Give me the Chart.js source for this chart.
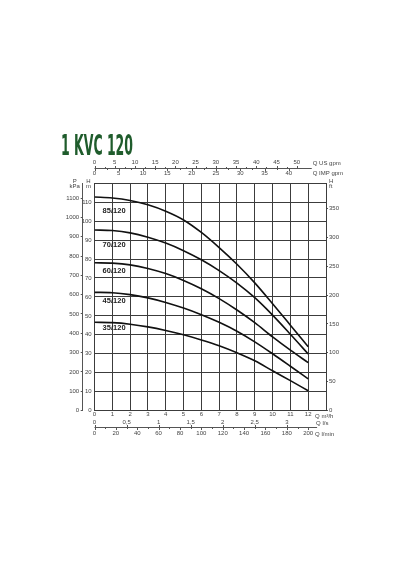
<!DOCTYPE html>
<html>
<head>
<meta charset="utf-8">
<script src="https://cdn.jsdelivr.net/npm/chart.js@4.4.1/dist/chart.umd.min.js"></script>
<style>
  html, body { margin: 0; padding: 0; background: #fff; }
  canvas { display: block; }
</style>
</head>
<body>
<canvas id="pumpChart" width="400" height="570"></canvas>
<script>
var chartTitle = "1 KVC 120";

// flow, m3/h
var flowQ = [0, 1, 2, 3, 4, 5, 6, 7, 8, 9, 10, 11, 12];
// head, m (one list per model)
var head85 = [112.7, 112.2, 110.9, 108.6, 105.2, 100.6, 94.0, 86.0, 77.2, 67.4, 56.4, 45.1, 33.7];
var head70 = [95.3, 95.0, 93.8, 91.5, 88.4, 84.4, 79.6, 73.9, 67.3, 59.6, 50.4, 40.3, 29.9];
var head60 = [78.0, 77.8, 76.9, 75.0, 72.3, 68.7, 64.3, 59.1, 53.1, 46.4, 38.9, 31.9, 25.3];
var head45 = [62.4, 62.2, 61.2, 59.5, 57.1, 54.1, 50.6, 46.6, 41.9, 36.3, 30.0, 23.4, 16.7];
var head35 = [46.6, 46.4, 45.6, 44.2, 42.3, 40.0, 37.3, 34.2, 30.5, 26.3, 21.0, 15.8, 10.5];
var modelNames = ["85/120", "70/120", "60/120", "45/120", "35/120"];
// where the model names sit, in Q (m3/h) and H (m)
var nameQ = [1.1, 1.1, 1.1, 1.1, 1.1];
var nameH = [105.5, 87.4, 73.8, 57.8, 43.4];

// secondary axis tick values
var usGpmTicks = [0, 5, 10, 15, 20, 25, 30, 35, 40, 45, 50];
var impGpmTicks = [0, 5, 10, 15, 20, 25, 30, 35, 40];
var lsTicks = [0, 0.5, 1, 1.5, 2, 2.5, 3];
var lminTicks = [0, 20, 40, 60, 80, 100, 120, 140, 160, 180, 200];
var kpaTicks = [0, 100, 200, 300, 400, 500, 600, 700, 800, 900, 1000, 1100];
var ftTicks = [0, 50, 100, 150, 200, 250, 300, 350];

var qMax = 13, hMax = 120;
var toUsGpm = 4.40287, toImpGpm = 3.66615, toLs = 1 / 3.6, toLmin = 1000 / 60;
var toKpa = 9.80665, toFt = 1 / 0.3048;

var gridColor = "#3c3c3c";
var axisColor = "#555";
var textColor = "#444";
var tickFont = { family: '"Liberation Sans", Arial, sans-serif', size: 6 };

function fixedWidth(w) { return function (scale) { scale.width = w; }; }
function fixedHeight(h) { return function (scale) { scale.height = h; }; }
function useTicks(values, minors) {
	return function (scale) {
		var list = [];
		values.forEach(function (v, i) {
			list.push({ value: v });
			if (minors && i < values.length - 1) list.push({ value: (v + values[i + 1]) / 2, minor: true });
		});
		scale.ticks = list;
	};
}
function plainLabel(v, i, ticks) { return ticks[i].minor ? "" : String(v).replace(".", ","); }

// flow/pressure scales that only carry labels; their lines and marks are drawn by the plugin
function sideAxis(pos, weight, max, values, minors, size, pad) {
	return {
		type: "linear", position: pos, weight: weight, bounds: "data",
		min: 0, max: max,
		afterBuildTicks: useTicks(values, minors),
		afterFit: (pos == "top" || pos == "bottom") ? fixedHeight(size) : fixedWidth(size),
		grid: { display: false, drawTicks: false },
		border: { display: false },
		ticks: { autoSkip: false, maxRotation: 0, padding: pad, font: tickFont, color: textColor, callback: plainLabel }
	};
}

var heads = [head85, head70, head60, head45, head35];
var datasets = heads.map(function (h, k) {
	return {
		label: modelNames[k],
		data: flowQ.map(function (q, i) { return { x: q, y: h[i] }; }),
		borderColor: "#111",
		borderWidth: 1.6,
		pointRadius: 0,
		fill: false,
		cubicInterpolationMode: "monotone"
	};
});

function line(ctx, x1, y1, x2, y2) {
	ctx.beginPath(); ctx.moveTo(x1, y1); ctx.lineTo(x2, y2); ctx.stroke();
}

var extras = {
	id: "extras",
	afterDraw: function (chart) {
		var ctx = chart.ctx, s = chart.scales, area = chart.chartArea;
		ctx.save();

		// title, squeezed like the condensed catalogue face
		ctx.font = 'bold 28px "Liberation Sans Narrow", "DejaVu Sans Condensed", sans-serif';
		ctx.fillStyle = "#1f5c2c";
		ctx.textBaseline = "alphabetic";
		ctx.textAlign = "left";
		var w = ctx.measureText(chartTitle).width;
		ctx.save();
		ctx.translate(61, 155);
		ctx.scale(72 / w, 1);
		ctx.fillText(chartTitle, 0, 0);
		ctx.restore();

		// shared lines of the top and bottom secondary axes
		ctx.strokeStyle = axisColor;
		ctx.lineWidth = 1;
		var topY = Math.round(s.us.bottom) + 0.5;
		var botY = Math.round(s.lmin.top) + 0.5;
		var topEnd = s.x.getPixelForValue(12.2);
		var botEnd = s.x.getPixelForValue(12.5);
		line(ctx, area.left, topY, topEnd, topY);
		line(ctx, area.left, botY, botEnd, botY);

		function marks(scale, y, dir) {
			scale.ticks.forEach(function (t) {
				var px = Math.round(scale.getPixelForValue(t.value)) + 0.5;
				line(ctx, px, y, px, y + dir * (t.minor ? 1.5 : 2.5));
			});
		}
		marks(s.us, topY, -1);
		marks(s.imp, topY, 1);
		marks(s.ls, botY, -1);
		marks(s.lmin, botY, 1);

		// unit captions
		ctx.font = '6px "Liberation Sans", Arial, sans-serif';
		ctx.fillStyle = textColor;
		ctx.textBaseline = "middle";
		ctx.textAlign = "left";
		ctx.fillText("Q US gpm", topEnd + 1, topY - 5.5);
		ctx.fillText("Q IMP gpm", topEnd + 1, topY + 5);
		ctx.fillText("Q m\u00b3/h", botEnd - 2, area.bottom + 5.5);
		ctx.fillText("Q l/s", botEnd - 1, botY - 4.5);
		ctx.fillText("Q l/min", botEnd - 2, botY + 6.5);

		ctx.textAlign = "center";
		var kx = s.kpa.right - 8, hx = s.y.right - 6;
		ctx.fillText("P", kx, area.top - 1.5);
		ctx.fillText("kPa", kx, area.top + 3.5);
		ctx.fillText("H", hx, area.top - 1.5);
		ctx.fillText("m", hx, area.top + 3.5);
		ctx.textAlign = "left";
		ctx.fillText("H", s.ft.left + 3, area.top - 1.5);
		ctx.fillText("ft", s.ft.left + 3, area.top + 3.5);

		// model names on the curves
		ctx.font = 'bold 7.5px "Liberation Sans", Arial, sans-serif';
		ctx.fillStyle = "#222";
		ctx.textAlign = "center";
		modelNames.forEach(function (name, i) {
			ctx.fillText(name, s.x.getPixelForValue(nameQ[i]), s.y.getPixelForValue(nameH[i]));
		});
		ctx.restore();
	}
};

new Chart(document.getElementById("pumpChart"), {
	type: "line",
	data: { datasets: datasets },
	plugins: [extras],
	options: {
		responsive: false,
		animation: false,
		devicePixelRatio: 1,
		layout: { padding: { left: 60, right: 0, top: 150, bottom: 0 } },
		plugins: { legend: { display: false }, tooltip: { enabled: false }, title: { display: false } },
		scales: {
			x: {
				type: "linear", position: "bottom", weight: 0, bounds: "data",
				min: 0, max: qMax,
				afterFit: fixedHeight(8),
				grid: { color: gridColor, lineWidth: 1, drawTicks: false },
				border: { display: true, color: gridColor },
				ticks: { stepSize: 1, autoSkip: false, maxRotation: 0, padding: 0, font: tickFont, color: textColor,
					callback: function (v) { return v > 12 ? "" : v; } }
			},
			ls: sideAxis("bottom", 1, qMax * toLs, lsTicks, false, 8.1, 0.5),
			lmin: sideAxis("bottom", 2, qMax * toLmin, lminTicks, true, 143.3, 3),
			imp: sideAxis("top", 0, qMax * toImpGpm, impGpmTicks, true, 15.2, 6.6),
			us: sideAxis("top", 1, qMax * toUsGpm, usGpmTicks, true, 18, 2.3),
			y: {
				type: "linear", position: "left", weight: 0, bounds: "data",
				min: 0, max: hMax,
				afterFit: fixedWidth(11.8),
				grid: { color: gridColor, lineWidth: 1, drawTicks: false },
				border: { display: true, color: gridColor },
				ticks: { stepSize: 10, autoSkip: false, padding: 2.8, font: tickFont, color: textColor,
					callback: function (v) { return v >= hMax ? "" : v; } }
			},
			kpa: {
				type: "linear", position: "left", weight: 1, bounds: "data",
				min: 0, max: hMax * toKpa,
				afterBuildTicks: useTicks(kpaTicks, false),
				afterFit: fixedWidth(22.7),
				grid: { display: true, drawOnChartArea: false, drawTicks: true, tickLength: 2, color: axisColor },
				border: { display: true, color: axisColor },
				ticks: { autoSkip: false, padding: 1.5, font: tickFont, color: textColor, callback: plainLabel }
			},
			ft: {
				type: "linear", position: "right", weight: 0, bounds: "data",
				min: 0, max: hMax * toFt,
				afterBuildTicks: useTicks(ftTicks, false),
				afterFit: fixedWidth(74),
				grid: { display: true, drawOnChartArea: false, drawTicks: true, tickLength: 2, color: axisColor },
				border: { display: true, color: gridColor },
				ticks: { autoSkip: false, padding: 1, font: tickFont, color: textColor, callback: plainLabel }
			}
		}
	}
});
</script>
</body>
</html>
